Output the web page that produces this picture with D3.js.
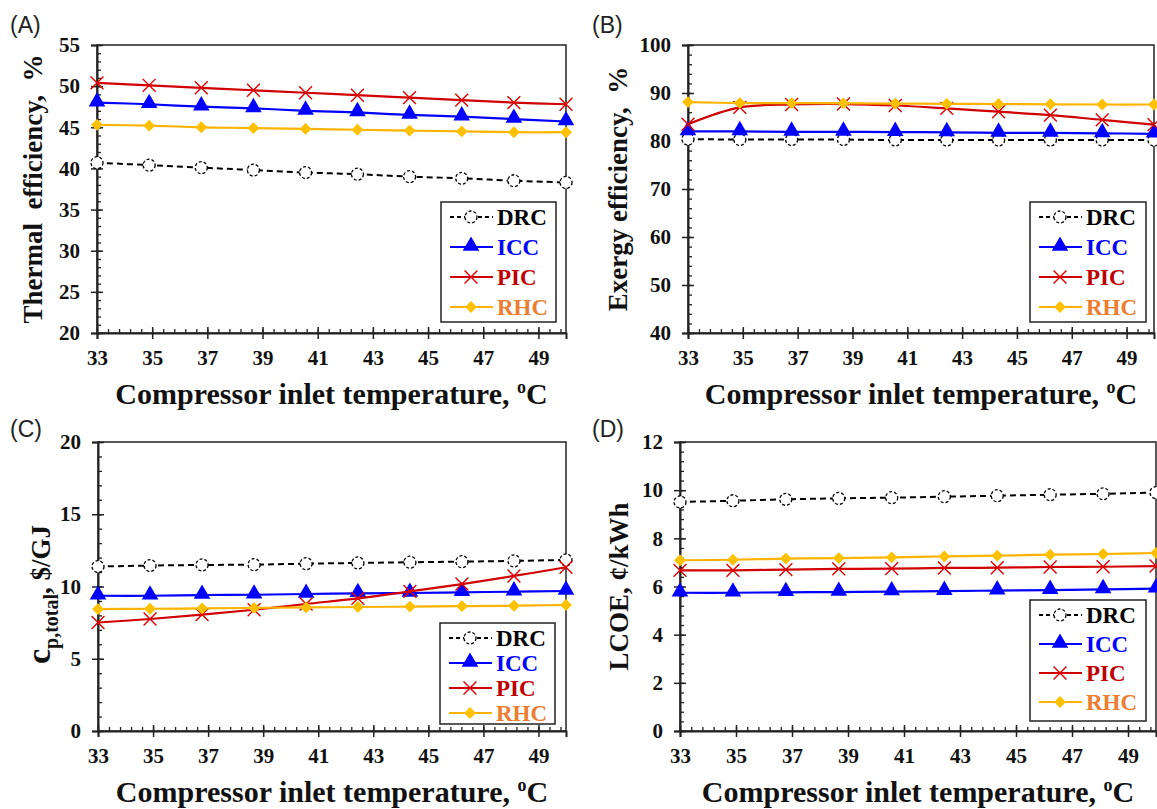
<!DOCTYPE html>
<html>
<head>
<meta charset="utf-8">
<script src="https://cdn.jsdelivr.net/npm/d3@7"></script>
<style>
  body { margin: 0; background: #fff; }
  svg { display: block; }
  text { font-family: "Liberation Serif", "Times New Roman", serif; font-weight: bold; }
</style>
</head>
<body>
<svg id="chart" width="1157" height="809"></svg>
<script>
// compressor inlet temperature (x) for all panels
var temps = [33, 34.89, 36.78, 38.67, 40.56, 42.44, 44.33, 46.22, 48.11, 50];
var xTickVals = [33, 35, 37, 39, 41, 43, 45, 47, 49];
var seriesNames = ["DRC", "ICC", "PIC", "RHC"];

// (A) thermal efficiency, %
var thermalDRC = [40.7, 40.4, 40.1, 39.8, 39.5, 39.3, 39.0, 38.8, 38.5, 38.3];
var thermalICC = [48.0, 47.8, 47.5, 47.3, 47.0, 46.8, 46.5, 46.3, 46.0, 45.7];
var thermalPIC = [50.4, 50.1, 49.8, 49.5, 49.2, 48.9, 48.6, 48.3, 48.0, 47.8];
var thermalRHC = [45.3, 45.2, 45.0, 44.9, 44.8, 44.7, 44.6, 44.5, 44.4, 44.4];

// (B) exergy efficiency, %
var exergyDRC = [80.4, 80.3, 80.3, 80.3, 80.2, 80.2, 80.2, 80.2, 80.2, 80.2];
var exergyICC = [82.0, 82.0, 81.9, 81.9, 81.85, 81.8, 81.7, 81.7, 81.6, 81.5];
var exergyPIC = [83.5, 87.0, 87.6, 87.7, 87.4, 86.8, 86.1, 85.4, 84.4, 83.4];
var exergyRHC = [88.1, 87.9, 87.9, 87.85, 87.8, 87.75, 87.7, 87.65, 87.6, 87.6];

// (C) c_p,total, $/GJ
var costDRC = [11.38, 11.45, 11.49, 11.51, 11.58, 11.63, 11.68, 11.72, 11.77, 11.84];
var costICC = [9.36, 9.36, 9.41, 9.43, 9.48, 9.53, 9.55, 9.60, 9.64, 9.69];
var costPIC = [7.51, 7.75, 8.05, 8.39, 8.79, 9.18, 9.66, 10.17, 10.73, 11.33];
var costRHC = [8.44, 8.46, 8.48, 8.52, 8.55, 8.58, 8.61, 8.64, 8.67, 8.72];

// (D) LCOE, cent/kWh
var lcoeDRC = [9.51, 9.56, 9.62, 9.66, 9.69, 9.73, 9.77, 9.81, 9.85, 9.90];
var lcoeICC = [5.74, 5.74, 5.76, 5.77, 5.79, 5.81, 5.83, 5.85, 5.88, 5.91];
var lcoePIC = [6.67, 6.67, 6.70, 6.73, 6.74, 6.77, 6.78, 6.81, 6.82, 6.85];
var lcoeRHC = [7.09, 7.11, 7.16, 7.18, 7.21, 7.25, 7.28, 7.32, 7.35, 7.39];

var lineColor = { DRC: "#000000", ICC: "#0000ff", PIC: "#d00000", RHC: "#ffb300" };
var textColor = { DRC: "#000000", ICC: "#0000ff", PIC: "#c00000", RHC: "#ed7d31" };

var panels = [
  { tag: "(A)", tagX: 10, tagY: 33, l: 97, r: 566, t: 45, b: 333,
    yDom: [20, 55], yStep: 5, yMinor: 1, ylabX: 42,
    ylab: "Thermal  efficiency,  %",
    leg: { x: 441, y: 202, w: 115, h: 120, row: 30 },
    data: [thermalDRC, thermalICC, thermalPIC, thermalRHC] },
  { tag: "(B)", tagX: 592, tagY: 33, l: 688, r: 1154, t: 45, b: 333,
    yDom: [40, 100], yStep: 10, yMinor: 2, ylabX: 627,
    ylab: "Exergy efficiency,  %",
    leg: { x: 1030, y: 202, w: 116, h: 120, row: 30 },
    data: [exergyDRC, exergyICC, exergyPIC, exergyRHC] },
  { tag: "(C)", tagX: 10, tagY: 437, l: 98, r: 566, t: 442, b: 731,
    yDom: [0, 20], yStep: 5, yMinor: 1, ylabX: 50,
    ylab: null,
    leg: { x: 440, y: 623, w: 115, h: 101, row: 25 },
    data: [costDRC, costICC, costPIC, costRHC] },
  { tag: "(D)", tagX: 592, tagY: 437, l: 680, r: 1156, t: 442, b: 731,
    yDom: [0, 12], yStep: 2, yMinor: 0.4, ylabX: 628,
    ylab: "LCOE, \u00a2/kWh",
    leg: { x: 1030, y: 600, w: 116, h: 121, row: 29 },
    data: [lcoeDRC, lcoeICC, lcoePIC, lcoeRHC] }
];

var svg = d3.select("#chart");

function drawMarker(g, name, cx, cy) {
  if (name === "DRC") {
    g.append("circle").attr("cx", cx).attr("cy", cy).attr("r", 6)
      .attr("fill", "#fff").attr("stroke", "#000").attr("stroke-width", 1.3)
      .attr("stroke-dasharray", "3,2");
  } else if (name === "ICC") {
    g.append("path").attr("d", d3.symbol(d3.symbolTriangle, 120)())
      .attr("transform", "translate(" + cx + "," + (cy - 1) + ")")
      .attr("fill", "#0000ff");
  } else if (name === "PIC") {
    g.append("path").attr("d", d3.symbol(d3.symbolX, 110)())
      .attr("transform", "translate(" + cx + "," + cy + ")")
      .attr("fill", "none").attr("stroke", "#e00000").attr("stroke-width", 1.4);
  } else {
    g.append("path").attr("d", d3.symbol(d3.symbolSquare, 70)())
      .attr("transform", "translate(" + cx + "," + cy + ") rotate(45)")
      .attr("fill", "#ffc000");
  }
}

function drawPanel(p) {
  var g = svg.append("g");
  var x = d3.scaleLinear().domain([33, 50]).range([p.l, p.r]);
  var y = d3.scaleLinear().domain(p.yDom).range([p.b, p.t]);

  // frame
  g.append("rect").attr("x", p.l).attr("y", p.t)
    .attr("width", p.r - p.l).attr("height", p.b - p.t)
    .attr("fill", "none").attr("stroke", "#222").attr("stroke-width", 1.5);

  // x axis: minor ticks inward, major ticks crossing
  var xMinor = d3.range(33, 50.01, 0.4);
  g.append("g").attr("transform", "translate(0," + p.b + ")")
    .call(d3.axisTop(x).tickValues(xMinor).tickSize(4).tickFormat(""))
    .call(function(a) { a.select(".domain").remove(); a.selectAll("line").attr("stroke", "#222").attr("stroke-width", 1.3); });
  var xa = g.append("g").attr("transform", "translate(0," + p.b + ")")
    .call(d3.axisBottom(x).tickValues(xTickVals).tickSize(6).tickPadding(11).tickFormat(d3.format("d")));
  xa.select(".domain").attr("stroke", "#222").attr("stroke-width", 2);
  xa.selectAll(".tick line").attr("y1", -6).attr("stroke", "#222").attr("stroke-width", 1.5);
  xa.selectAll(".tick text").attr("font-size", 21).attr("fill", "#111")
    .attr("font-family", "Liberation Serif").attr("font-weight", "bold");

  // y axis
  var yMinor = d3.range(p.yDom[0], p.yDom[1] + 1e-6, p.yMinor);
  g.append("g").attr("transform", "translate(" + p.l + ",0)")
    .call(d3.axisRight(y).tickValues(yMinor).tickSize(4).tickFormat(""))
    .call(function(a) { a.select(".domain").remove(); a.selectAll("line").attr("stroke", "#222").attr("stroke-width", 1.3); });
  var yTicks = d3.range(p.yDom[0], p.yDom[1] + 1e-6, p.yStep);
  var ya = g.append("g").attr("transform", "translate(" + p.l + ",0)")
    .call(d3.axisLeft(y).tickValues(yTicks).tickSize(6).tickPadding(11).tickFormat(d3.format("d")));
  ya.select(".domain").attr("stroke", "#222").attr("stroke-width", 2);
  ya.selectAll(".tick line").attr("x1", 6).attr("stroke", "#222").attr("stroke-width", 1.5);
  ya.selectAll(".tick text").attr("font-size", 21).attr("fill", "#111")
    .attr("font-family", "Liberation Serif").attr("font-weight", "bold");

  // series
  var line = d3.line().x(function(d) { return x(d[0]); }).y(function(d) { return y(d[1]); })
    .curve(d3.curveCatmullRom.alpha(0.5));
  seriesNames.forEach(function(name, i) {
    var pts = temps.map(function(t, k) { return [t, p.data[i][k]]; });
    g.append("path").datum(pts).attr("d", line).attr("fill", "none")
      .attr("stroke", lineColor[name]).attr("stroke-width", name === "DRC" ? 2 : 2.2)
      .attr("stroke-dasharray", name === "DRC" ? "6,4" : null);
    var mg = g.append("g");
    pts.forEach(function(d) { drawMarker(mg, name, x(d[0]), y(d[1])); });
  });

  // legend
  var L = p.leg;
  g.append("rect").attr("x", L.x).attr("y", L.y).attr("width", L.w).attr("height", L.h)
    .attr("fill", "#fff").attr("stroke", "#222").attr("stroke-width", 1.5);
  seriesNames.forEach(function(name, i) {
    var cy = L.y + 15 + i * L.row;
    g.append("line").attr("x1", L.x + 9).attr("x2", L.x + 52).attr("y1", cy).attr("y2", cy)
      .attr("stroke", lineColor[name]).attr("stroke-width", 2)
      .attr("stroke-dasharray", name === "DRC" ? "4,3" : null);
    drawMarker(g, name, L.x + 30, cy);
    g.append("text").attr("x", L.x + 56).attr("y", cy + 8).attr("font-size", 23)
      .attr("fill", textColor[name]).text(name);
  });

  // axis titles
  var xl = g.append("text").attr("x", (p.l + p.r) / 2).attr("y", p.b + 71)
    .attr("text-anchor", "middle").attr("font-size", 30).attr("fill", "#111");
  xl.append("tspan").text("Compressor inlet temperature, ");
  xl.append("tspan").attr("font-size", 18).attr("dy", -11).text("o");
  xl.append("tspan").attr("dy", 11).text("C");

  var cyMid = (p.t + p.b) / 2;
  var yl = g.append("text").attr("transform", "translate(" + p.ylabX + "," + cyMid + ") rotate(-90)")
    .attr("text-anchor", "middle").attr("font-size", 27).attr("fill", "#111")
    .attr("xml:space", "preserve").style("white-space", "pre");
  if (p.ylab) {
    yl.text(p.ylab);
  } else {
    yl.attr("transform", "translate(" + p.ylabX + "," + (cyMid + 8) + ") rotate(-90)");
    yl.append("tspan").attr("font-size", 34).text("c");
    yl.append("tspan").attr("font-size", 20).attr("dy", 8).text("p,total");
    yl.append("tspan").attr("dy", -8).text(", $/GJ");
  }

  // panel tag
  svg.append("text").attr("x", p.tagX).attr("y", p.tagY)
    .style("font-family", "Liberation Sans, Arial, sans-serif").style("font-weight", "normal")
    .attr("font-size", 23).attr("fill", "#222").text(p.tag);
}

panels.forEach(drawPanel);
</script>
</body>
</html>
